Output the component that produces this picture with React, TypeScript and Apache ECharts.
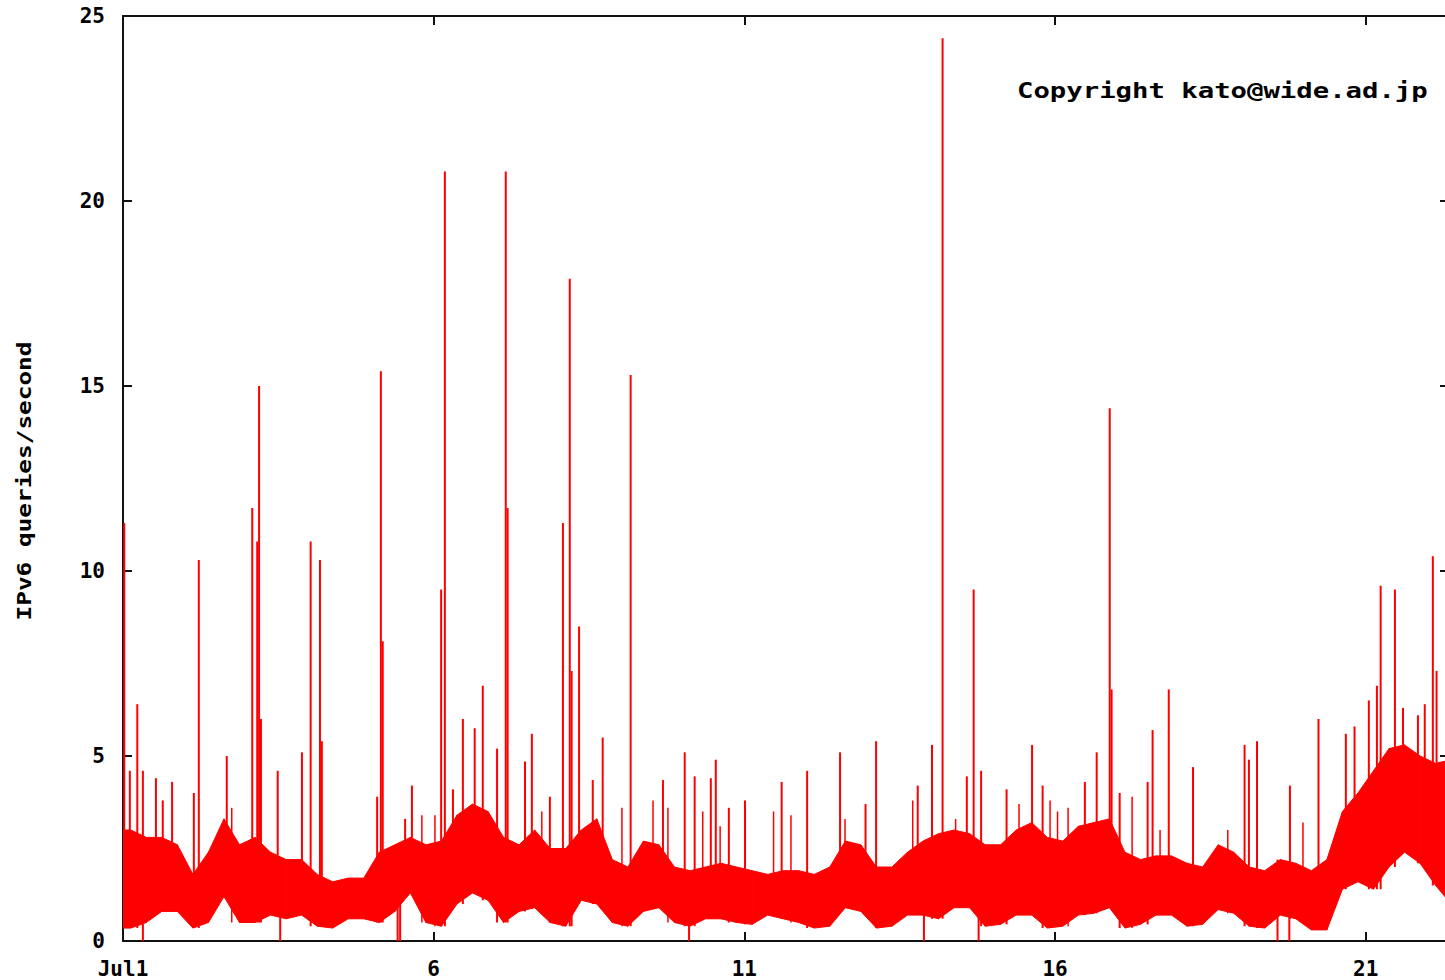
import React, { useEffect, useRef } from "react";
import * as echarts from "echarts";

// ---- data (days since Jul 1 00:00) ----
const BIN_DAYS = 0.25;
const bandLow = [
  0.35, 0.5, 0.8, 0.8, 0.35, 0.5, 1.2, 0.5, 0.5, 0.7,
  0.6, 0.7, 0.4, 0.35, 0.6, 0.6, 0.5, 0.8, 1.3, 0.5,
  0.4, 1.0, 1.3, 1.1, 0.5, 0.8, 0.9, 0.5, 0.4, 1.1,
  1.0, 0.5, 0.4, 0.8, 0.9, 0.5, 0.4, 0.6, 0.6, 0.5,
  0.45, 0.7, 0.6, 0.5, 0.35, 0.4, 0.9, 0.8, 0.35, 0.4,
  0.7, 0.7, 0.6, 0.9, 0.9, 0.4, 0.45, 0.7, 0.7, 0.35,
  0.4, 0.7, 0.75, 0.9, 0.35, 0.45, 0.7, 0.7, 0.4, 0.45,
  0.85, 0.75, 0.4, 0.35, 0.7, 0.6, 0.3, 0.3, 1.4, 1.6,
  1.4, 2.0, 2.4, 2.1, 1.5, 1.0,
];
const bandHigh = [
  3.0, 2.8, 2.8, 2.6, 1.8, 2.4, 3.3, 2.6, 2.8, 2.4,
  2.2, 2.2, 1.8, 1.6, 1.7, 1.7, 2.4, 2.6, 2.8, 2.6,
  2.7, 3.4, 3.7, 3.5, 2.8, 2.6, 3.0, 2.5, 2.5, 3.0,
  3.3, 2.2, 2.0, 2.7, 2.6, 2.0, 1.9, 2.0, 2.1, 2.0,
  1.9, 1.8, 1.9, 1.9, 1.8, 2.0, 2.7, 2.6, 2.0, 2.0,
  2.4, 2.7, 2.9, 3.0, 2.9, 2.6, 2.6, 3.0, 3.2, 2.8,
  2.7, 3.1, 3.2, 3.3, 2.4, 2.2, 2.3, 2.3, 2.1, 2.0,
  2.6, 2.4, 2.0, 1.9, 2.2, 2.1, 1.9, 2.2, 3.5, 4.0,
  4.6, 5.2, 5.3, 5.0, 4.8, 4.9,
];
const spikeDays = [
  0.02, 0.11, 0.23, 0.32, 0.53, 0.64, 0.79, 1.14, 1.22, 1.67,
  2.08, 2.16, 2.19, 2.22, 2.49, 2.88, 3.02, 3.17, 3.2, 4.09,
  4.15, 4.18, 4.54, 4.65, 5.12, 5.18, 5.31, 5.47, 5.66, 5.79,
  6.02, 6.16, 6.19, 6.47, 6.58, 6.87, 7.08, 7.19, 7.22, 7.34,
  7.56, 7.72, 8.17, 8.69, 9.04, 9.2, 9.46, 9.54, 9.75, 10.01,
  10.6, 11.01, 11.54, 11.95, 12.12, 12.79, 13.02, 13.19, 13.58, 13.69,
  13.81, 14.22, 14.63, 14.8, 15.48, 15.67, 15.88, 15.91, 16.04, 16.49,
  16.57, 16.83, 17.22, 18.05, 18.12, 18.25, 18.78, 19.24, 19.68, 19.82,
  20.05, 20.18, 20.24, 20.47, 20.6, 20.84, 20.95, 21.08, 21.14,
];
const spikeValues = [
  11.3, 4.6, 6.4, 4.6, 4.4, 3.8, 4.3, 4.0, 10.3, 5.0,
  11.7, 10.8, 15.0, 6.0, 4.6, 5.1, 10.8, 10.3, 5.4, 3.9,
  15.4, 8.1, 3.3, 4.2, 9.5, 20.8, 4.1, 6.0, 5.75, 6.9,
  5.2, 20.8, 11.7, 4.85, 5.6, 3.9, 11.3, 17.9, 7.3, 8.5,
  4.35, 5.5, 15.3, 4.35, 5.1, 4.45, 4.4, 4.9, 3.6, 3.8,
  4.3, 4.6, 5.1, 3.7, 5.4, 4.2, 5.3, 24.4, 4.45, 9.5,
  4.6, 4.1, 5.3, 4.2, 4.3, 5.1, 14.4, 6.8, 4.0, 4.3,
  5.7, 6.8, 4.7, 5.3, 4.9, 5.4, 4.2, 6.0, 5.6, 5.8,
  6.5, 6.9, 9.6, 9.5, 6.3, 6.1, 6.4, 10.4, 7.3,
];
const minorSpikeDays = [
  1.75, 4.81, 5.02, 6.74, 8.03, 8.53, 8.77, 9.33, 9.61, 10.47,
  10.75, 11.62, 12.71, 13.4, 14.42, 14.92, 15.04, 15.21, 16.24, 16.69,
  17.78, 18.99,
];
const minorSpikeValues = [
  3.6, 3.4, 3.4, 3.5, 3.6, 3.8, 3.6, 3.5, 3.1, 3.5,
  3.4, 3.3, 3.8, 3.3, 3.7, 3.8, 3.5, 3.6, 3.9, 3.0,
  3.0, 3.2,
];
const dipDays = [0.32, 2.53, 4.42, 4.46, 9.11, 12.89, 13.77, 18.58, 18.77];
const dipValues = [0, 0, 0, 0, 0, 0, 0, 0, 0];

const xTickDays = [0, 5, 10, 15, 20];
const xTickLabels = ["Jul1", "6", "11", "16", "21"];
const X_MAX_DAYS = 21.34;
const Y_MAX = 25;
const Y_INTERVAL = 5;
const yTitle = "IPv6 queries/second";
const copyright = "Copyright kato@wide.ad.jp";

const RED = "#ff0000";
const FONT = "DejaVu Sans Mono";

function binIndex(day: number) {
  return Math.max(0, Math.min(bandLow.length - 1, Math.floor(day / BIN_DAYS)));
}

export default function App() {
  const ref = useRef<HTMLDivElement>(null);
  useEffect(() => {
    if (!ref.current) return;
    const chart = echarts.init(ref.current, null, { renderer: "svg" });

    // polygon segments joining bin centres (first/last extended flat to the edges)
    const n = bandLow.length;
    const mids = bandLow.map((_, i) => (i + 0.5) * BIN_DAYS);
    const bandData: number[][] = [];
    bandData.push([0, mids[0], bandLow[0], bandHigh[0], bandLow[0], bandHigh[0]]);
    for (let i = 0; i < n - 1; i++) {
      bandData.push([mids[i], mids[i + 1], bandLow[i], bandHigh[i], bandLow[i + 1], bandHigh[i + 1]]);
    }
    bandData.push([mids[n - 1], n * BIN_DAYS, bandLow[n - 1], bandHigh[n - 1], bandLow[n - 1], bandHigh[n - 1]]);

    const spikeData = spikeDays.map((d, i) => [d, spikeValues[i], bandLow[binIndex(d)]]);
    const minorData = minorSpikeDays.map((d, i) => [d, minorSpikeValues[i], bandLow[binIndex(d)]]);
    const dipData = dipDays.map((d, i) => [d, dipValues[i], bandHigh[binIndex(d)]]);

    const lineItem = (width: number) => (params: any, api: any) => {
      const p1 = api.coord([api.value(0), api.value(1)]);
      const p2 = api.coord([api.value(0), api.value(2)]);
      return {
        type: "line",
        shape: { x1: p1[0], y1: p1[1], x2: p2[0], y2: p2[1] },
        style: { stroke: RED, lineWidth: width },
      };
    };

    const axisLabelStyle = {
      fontFamily: FONT,
      fontWeight: "bold",
      fontSize: 21,
      color: "#000",
    };
    const axisLine = { show: true, onZero: false, lineStyle: { color: "#111", width: 2 } };
    const tick = { show: true, inside: true, length: 9, lineStyle: { color: "#111", width: 2 } };

    chart.setOption({
      animation: false,
      backgroundColor: "#fff",
      grid: { left: 123, top: 16, right: 0, bottom: 39, containLabel: false },
      xAxis: [
        {
          type: "value",
          position: "bottom",
          min: 0,
          max: X_MAX_DAYS,
          interval: 5,
          axisLine,
          axisTick: tick,
          splitLine: { show: false },
          axisLabel: {
            ...axisLabelStyle,
            margin: 17,
            showMaxLabel: false,
            formatter: (v: number) => {
              const i = xTickDays.indexOf(v);
              return i >= 0 ? xTickLabels[i] : "";
            },
          },
        },
        {
          type: "value",
          position: "top",
          min: 0,
          max: X_MAX_DAYS,
          interval: 5,
          axisLine,
          axisTick: tick,
          splitLine: { show: false },
          axisLabel: { show: false },
        },
      ],
      yAxis: [
        {
          type: "value",
          position: "left",
          min: 0,
          max: Y_MAX,
          interval: Y_INTERVAL,
          axisLine,
          axisTick: tick,
          splitLine: { show: false },
          axisLabel: { ...axisLabelStyle, margin: 18 },
        },
        {
          type: "value",
          position: "right",
          min: 0,
          max: Y_MAX,
          interval: Y_INTERVAL,
          axisLine,
          axisTick: tick,
          splitLine: { show: false },
          axisLabel: { show: false },
        },
      ],
      series: [
        {
          type: "custom",
          name: "band",
          xAxisIndex: 0,
          yAxisIndex: 0,
          clip: true,
          encode: { x: [0, 1], y: [2, 3] },
          data: bandData,
          renderItem: (params: any, api: any) => {
            const a = api.coord([api.value(0), api.value(3)]);
            const b = api.coord([api.value(1), api.value(5)]);
            const c = api.coord([api.value(1), api.value(4)]);
            const d = api.coord([api.value(0), api.value(2)]);
            return {
              type: "polygon",
              shape: { points: [a, b, c, d] },
              style: { fill: RED, stroke: RED, lineWidth: 1 },
            };
          },
        },
        {
          type: "custom",
          name: "minor spikes",
          xAxisIndex: 0,
          yAxisIndex: 0,
          clip: true,
          encode: { x: 0, y: [1, 2] },
          data: minorData,
          renderItem: lineItem(1.5),
        },
        {
          type: "custom",
          name: "spikes",
          xAxisIndex: 0,
          yAxisIndex: 0,
          clip: true,
          encode: { x: 0, y: [1, 2] },
          data: spikeData,
          renderItem: lineItem(2),
        },
        {
          type: "custom",
          name: "dips",
          xAxisIndex: 0,
          yAxisIndex: 0,
          clip: true,
          encode: { x: 0, y: [1, 2] },
          data: dipData,
          renderItem: lineItem(2),
        },
      ],
      graphic: [
        {
          type: "text",
          x: 1017,
          y: 80,
          scaleX: 1.3,
          style: {
            text: copyright,
            font: `bold 21px "${FONT}"`,
            fill: "#000",
            textAlign: "left",
            textVerticalAlign: "top",
          },
        },
        {
          type: "text",
          x: 24,
          y: 481,
          rotation: Math.PI / 2,
          scaleX: 1.22,
          style: {
            text: yTitle,
            font: `bold 20px "${FONT}"`,
            fill: "#000",
            textAlign: "center",
            textVerticalAlign: "middle",
          },
        },
      ],
    });
    return () => chart.dispose();
  }, []);

  return (
    <div
      style={{ position: "absolute", left: 0, top: 0, width: 1445, height: 980, overflow: "hidden", background: "#fff" }}
    >
      <div ref={ref} style={{ width: 1449, height: 980 }} />
    </div>
  );
}
